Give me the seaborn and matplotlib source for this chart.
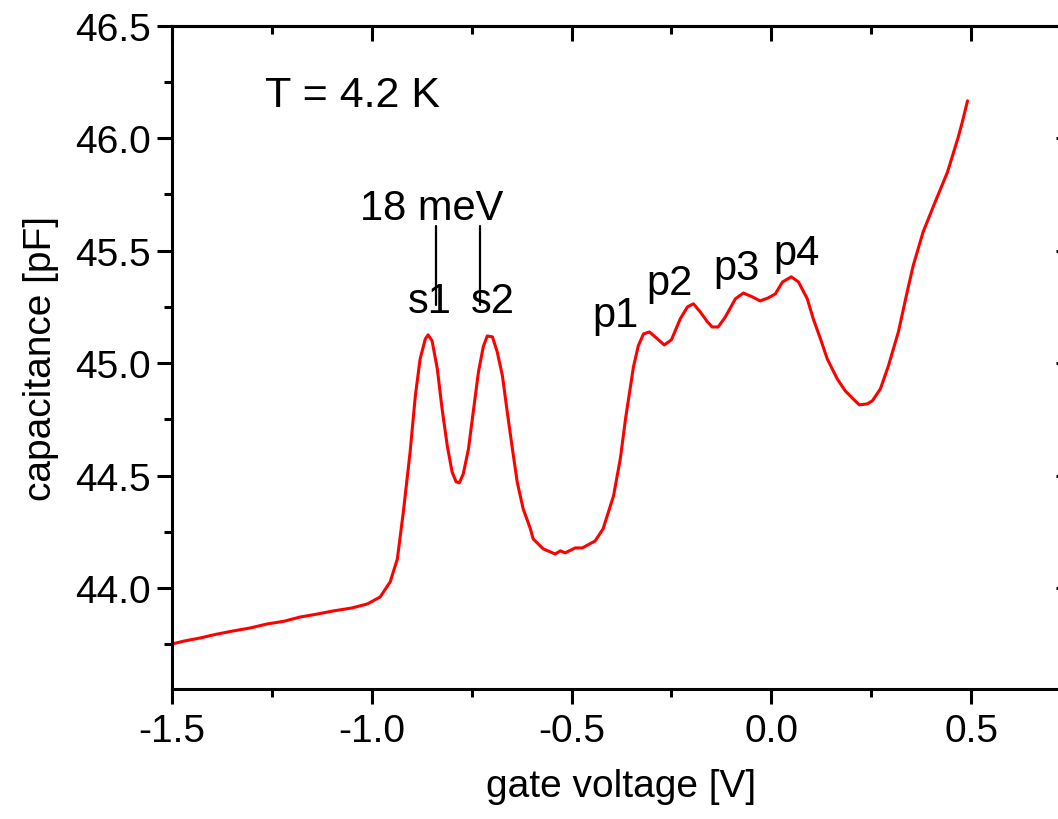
import numpy as np
import pandas as pd
import matplotlib
matplotlib.use("Agg")
import matplotlib.pyplot as plt
from matplotlib.ticker import MultipleLocator, FormatStrFormatter
import seaborn as sns

# ---- data ----
gate_voltage = [
    -1.500, -1.470, -1.429, -1.390, -1.347, -1.305, -1.262, -1.220, -1.179, -1.140,
    -1.096, -1.050, -1.011, -0.979, -0.954, -0.936,
    -0.921, -0.904, -0.891, -0.879, -0.866, -0.859, -0.849, -0.836, -0.824, -0.811,
    -0.799, -0.789, -0.781, -0.771, -0.758, -0.746, -0.733, -0.721, -0.711, -0.698,
    -0.686, -0.673, -0.661, -0.648, -0.636, -0.621, -0.603, -0.596, -0.571, -0.541,
    -0.528, -0.516, -0.491, -0.473, -0.441, -0.421, -0.395, -0.378, -0.365, -0.345,
    -0.333, -0.320, -0.305, -0.285, -0.268, -0.250, -0.228, -0.210, -0.195, -0.178,
    -0.160, -0.148, -0.133, -0.115, -0.090, -0.070, -0.048, -0.028, -0.008, 0.010,
    0.028, 0.050, 0.068, 0.090, 0.105, 0.123, 0.140, 0.165, 0.185, 0.205,
    0.220, 0.240, 0.253, 0.273, 0.293, 0.318, 0.340, 0.355, 0.380, 0.406,
    0.441, 0.468, 0.478, 0.491,
]
capacitance = [
    43.752, 43.765, 43.779, 43.795, 43.810, 43.823, 43.841, 43.853, 43.872, 43.884,
    43.899, 43.912, 43.930, 43.961, 44.028, 44.130,
    44.339, 44.606, 44.855, 45.019, 45.108, 45.126, 45.099, 44.975, 44.797, 44.632,
    44.517, 44.473, 44.468, 44.508, 44.619, 44.784, 44.961, 45.073, 45.121, 45.117,
    45.050, 44.944, 44.784, 44.619, 44.472, 44.352, 44.264, 44.219, 44.175, 44.152,
    44.166, 44.157, 44.179, 44.179, 44.210, 44.264, 44.410, 44.575, 44.752, 44.984,
    45.077, 45.130, 45.139, 45.108, 45.081, 45.104, 45.197, 45.250, 45.264, 45.228,
    45.184, 45.161, 45.161, 45.206, 45.286, 45.312, 45.295, 45.277, 45.290, 45.308,
    45.361, 45.384, 45.361, 45.286, 45.197, 45.108, 45.019, 44.930, 44.877, 44.841,
    44.815, 44.819, 44.833, 44.886, 44.988, 45.139, 45.317, 45.433, 45.584, 45.699,
    45.850, 46.006, 46.072, 46.166,
]

peak_labels = ["s1", "s2", "p1", "p2", "p3", "p4"]
peak_label_x = [-0.854, -0.698, -0.390, -0.255, -0.088, 0.063]
peak_label_y = [45.229, 45.229, 45.166, 45.309, 45.375, 45.442]

marker_x = [-0.839, -0.728]
marker_y_low = 45.26
marker_y_high = 45.61
splitting_text = "18 meV"
temperature_text = "T = 4.2 K"
x_label = "gate voltage [V]"
y_label = "capacitance [pF]"

df = pd.DataFrame({"V": gate_voltage, "C": capacitance})

# ---- style ----
sns.set_style("ticks")
plt.rcParams["font.family"] = ["Liberation Sans", "DejaVu Sans"]
plt.rcParams["text.color"] = "black"
plt.rcParams["axes.labelcolor"] = "black"
plt.rcParams["xtick.color"] = "black"
plt.rcParams["ytick.color"] = "black"
narrow = ["Liberation Sans Narrow", "Liberation Sans", "DejaVu Sans"]

W, H = 1058, 820
fig = plt.figure(figsize=(W / 100, H / 100), dpi=100)
ax = fig.add_axes([172 / W, (820 - 690) / H, (1071 - 172) / W, (690 - 26.7) / H])

sns.lineplot(data=df, x="V", y="C", color="#ff0000", linewidth=2.2, ax=ax, sort=False)

ax.set_xlim(-1.5, 0.75)
ax.set_ylim(43.552, 46.5)
ax.xaxis.set_major_locator(MultipleLocator(0.5))
ax.xaxis.set_minor_locator(MultipleLocator(0.25))
ax.yaxis.set_major_locator(MultipleLocator(0.5))
ax.yaxis.set_minor_locator(MultipleLocator(0.25))
ax.xaxis.set_major_formatter(FormatStrFormatter("%.1f"))
ax.yaxis.set_major_formatter(FormatStrFormatter("%.1f"))

for s in ax.spines.values():
    s.set_linewidth(2.2)
    s.set_color("black")

ax.tick_params(axis="both", which="major", direction="out", length=11, width=2.2,
               labelsize=28, color="black", labelcolor="black", pad=4)
ax.tick_params(axis="both", which="minor", direction="out", length=6, width=2.2,
               color="black")
ax.tick_params(axis="x", which="major", pad=6)

# inward ticks on top and right
axt = ax.secondary_xaxis("top")
axt.xaxis.set_major_locator(MultipleLocator(0.5))
axt.xaxis.set_minor_locator(MultipleLocator(0.25))
axt.tick_params(which="major", direction="in", length=11, width=2.2, labeltop=False,
                color="black")
axt.tick_params(which="minor", direction="in", length=6, width=2.2, color="black")
axt.spines["top"].set_linewidth(2.2)
axt.spines["top"].set_color("black")
axr = ax.secondary_yaxis("right")
axr.yaxis.set_major_locator(MultipleLocator(0.5))
axr.yaxis.set_minor_locator(MultipleLocator(0.25))
axr.tick_params(which="major", direction="in", length=11, width=2.2, labelright=False,
                color="black")
axr.tick_params(which="minor", direction="in", length=6, width=2.2, color="black")
axr.spines["right"].set_linewidth(2.2)
axr.spines["right"].set_color("black")

ax.set_xlabel(x_label, fontsize=28, labelpad=14, color="black")
ax.set_ylabel(y_label, fontsize=28, labelpad=12, color="black")

ax.text(-1.267, 46.19, temperature_text, fontsize=31, ha="left", va="center",
        color="black")

ax.text(-0.849, 45.642, splitting_text, fontsize=30, ha="center", va="baseline",
        family=narrow, color="black")
for mx in marker_x:
    ax.plot([mx, mx], [marker_y_low, marker_y_high], color="black", linewidth=1.6)

for lab, lx, ly in zip(peak_labels, peak_label_x, peak_label_y):
    ax.text(lx, ly, lab, fontsize=30, ha="center", va="baseline", family=narrow,
            color="black")

fig.savefig("out.png", dpi=100)
